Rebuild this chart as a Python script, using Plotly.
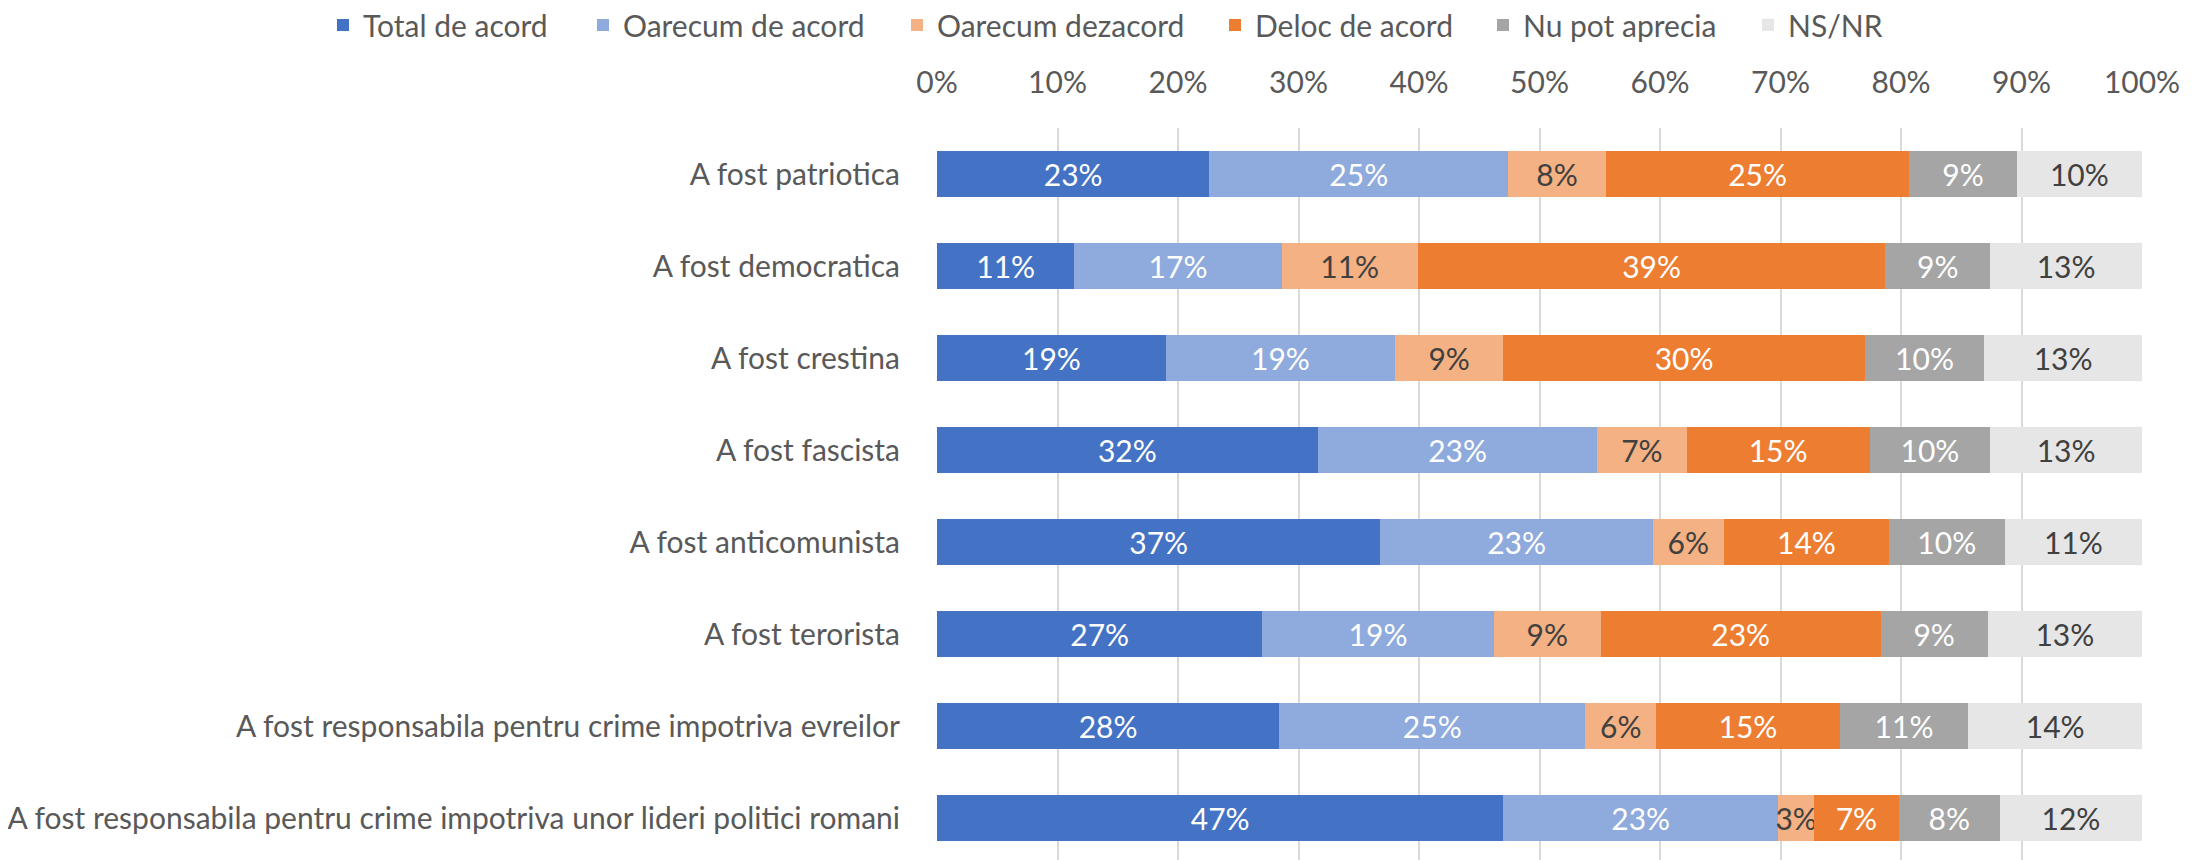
"""100% stacked bar chart of opinion shares, rebuilt with Plotly."""

from __future__ import annotations

import plotly.graph_objects as go

categories = [
    "A fost patriotica",
    "A fost democratica",
    "A fost crestina",
    "A fost fascista",
    "A fost anticomunista",
    "A fost terorista",
    "A fost responsabila pentru crime impotriva evreilor",
    "A fost responsabila pentru crime impotriva unor lideri politici romani",
]

total_de_acord = [22.6, 11.4, 19.0, 31.6, 36.8, 27.0, 28.4, 47.0]
oarecum_de_acord = [24.8, 17.2, 19.0, 23.2, 22.6, 19.2, 25.4, 22.8]
oarecum_dezacord = [8.1, 11.3, 9.0, 7.4, 5.9, 8.9, 5.9, 3.0]
deloc_de_acord = [25.2, 38.8, 30.0, 15.2, 13.7, 23.2, 15.2, 7.0]
nu_pot_aprecia = [8.9, 8.7, 9.9, 10.0, 9.6, 8.9, 10.7, 8.4]
ns_nr = [10.4, 12.6, 13.1, 12.6, 11.4, 12.8, 14.4, 11.8]

x_ticks = [0, 10, 20, 30, 40, 50, 60, 70, 80, 90, 100]
x_tick_labels = [f"{t}%" for t in x_ticks]

FONT = "Lato"
GREY_TEXT = "#595959"
DARK_TEXT = "#404040"
FONT_SIZE = 30

W, H = 2203, 860
# page body adds an 8px offset, so the plot box is shifted back by that much
PLOT_LEFT, PLOT_RIGHT, PLOT_TOP = 929, 2134, 120
ROW_PX = 92
LEGEND_MID_PX = 17

# (name, values, colour, label colour, legend left edge in px)
SERIES = [
    ("Total de acord", total_de_acord, "#4472C4", "white", 315),
    ("Oarecum de acord", oarecum_de_acord, "#8FAADC", "white", 575),
    ("Oarecum dezacord", oarecum_dezacord, "#F4B183", DARK_TEXT, 889),
    ("Deloc de acord", deloc_de_acord, "#ED7D31", "white", 1207),
    ("Nu pot aprecia", nu_pot_aprecia, "#A5A5A5", "white", 1475),
    ("NS/NR", ns_nr, "#E6E6E6", DARK_TEXT, 1740),
]


def build_figure() -> go.Figure:
    fig = go.Figure()
    legend_layout = {}
    for i, (name, values, color, txt_color, leg_x) in enumerate(SERIES):
        legend_id = "legend" if i == 0 else f"legend{i + 1}"
        fig.add_trace(
            go.Bar(
                name=name,
                y=categories,
                x=values,
                orientation="h",
                marker=dict(color=color, line=dict(width=0)),
                texttemplate="%{x:.0f}%",
                textposition="inside",
                insidetextanchor="middle",
                textangle=0,
                constraintext="none",
                textfont=dict(family=FONT, size=FONT_SIZE, color=txt_color),
                hoverinfo="skip",
                legend=legend_id,
            )
        )
        legend_layout[legend_id] = dict(
            orientation="h",
            xref="container",
            yref="container",
            x=leg_x / W,
            y=1 - LEGEND_MID_PX / H,
            xanchor="left",
            yanchor="middle",
            font=dict(family=FONT, size=FONT_SIZE, color=GREY_TEXT),
            bgcolor="rgba(0,0,0,0)",
        )

    plot_h = H - PLOT_TOP
    fig.update_layout(
        width=W,
        height=H,
        barmode="stack",
        bargap=0.5,
        plot_bgcolor="white",
        paper_bgcolor="white",
        margin=dict(l=PLOT_LEFT, r=W - PLOT_RIGHT, t=PLOT_TOP, b=0, pad=0),
        font=dict(family=FONT, size=FONT_SIZE, color=GREY_TEXT),
        showlegend=True,
        **legend_layout,
    )
    fig.update_xaxes(
        side="top",
        range=[0, 100],
        tickvals=x_ticks,
        ticktext=x_tick_labels,
        showgrid=True,
        gridcolor="#D9D9D9",
        gridwidth=1.5,
        zeroline=False,
        showline=False,
        ticks="outside",
        ticklen=22,
        tickcolor="rgba(0,0,0,0)",
        tickfont=dict(family=FONT, size=FONT_SIZE, color=GREY_TEXT),
        fixedrange=True,
    )
    fig.update_yaxes(
        range=[-0.5 + plot_h / ROW_PX, -0.5],
        showgrid=False,
        zeroline=False,
        showline=False,
        ticks="outside",
        ticklen=30,
        tickcolor="rgba(0,0,0,0)",
        tickfont=dict(family=FONT, size=FONT_SIZE, color=GREY_TEXT),
        fixedrange=True,
    )
    return fig


fig = build_figure()
fig.write_html("out.html")
